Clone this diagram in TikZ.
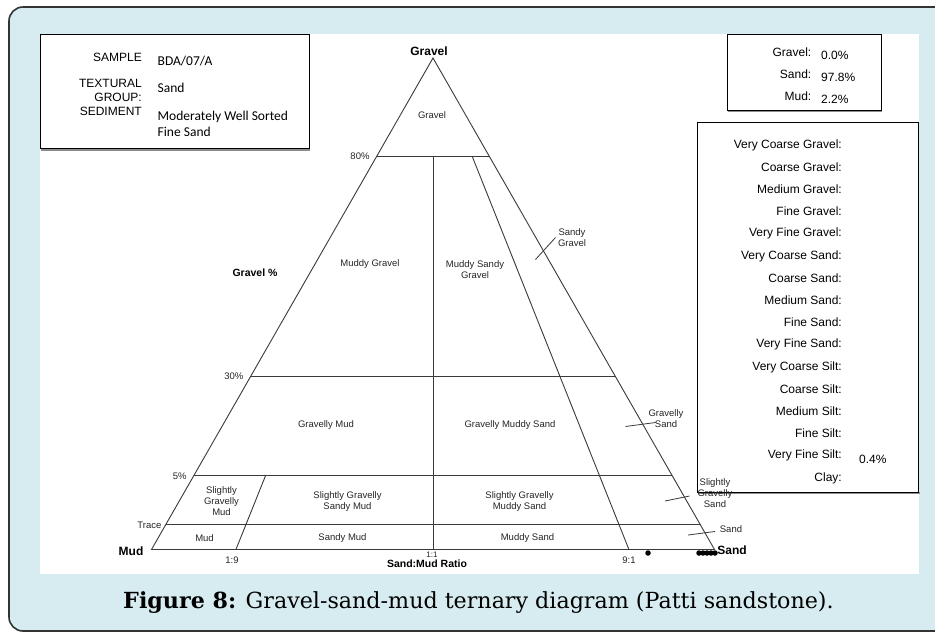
\documentclass[tikz,border=0pt]{standalone}
\usepackage{fontspec}
\setmainfont{Liberation Sans}
\newfontfamily\valuefont{Carlito}
\newfontfamily\captionfont{DejaVu Serif}
\usetikzlibrary{calc}
\definecolor{panelblue}{HTML}{D7ECF1}
\definecolor{framegray}{HTML}{333333}
\definecolor{linegray}{HTML}{3A3A3A}
\tikzset{
    region/.style = {align=center,
                    text=black!85,
                    inner sep=0pt,
                    font=\fontsize{9.5}{11}\selectfont},
    tick/.style =   {text=black!85,
                    inner sep=0pt,
                    font=\fontsize{9.5}{11}\selectfont},
    apex/.style =   {inner sep=0pt,
                    font=\bfseries\fontsize{12}{13}\selectfont},
    field/.style =  {anchor=east,
                    align=right,
                    inner sep=0pt,
                    font=\fontsize{12}{14}\selectfont},
    entry/.style =  {anchor=west,
                    align=left,
                    inner sep=0pt,
                    font=\valuefont\fontsize{13.5}{16}\selectfont},
    amount/.style = {anchor=west,
                    inner sep=0pt,
                    font=\fontsize{12}{14}\selectfont},
    infobox/.style ={draw=black,
                    line width=0.8pt},
    boxshadow/.style={draw=black!45,
                    line width=1.6pt},
    edge/.style =   {draw=linegray,
                    line width=0.9pt},
    leader/.style = {draw=linegray,
                    line width=0.8pt},
    sample/.style = {circle,
                    fill=black,
                    inner sep=0pt,
                    minimum size=5.5pt},
    -,
    line cap=round}

\begin{document}
\begin{tikzpicture}[x=1pt,y=-1pt]
            \useasboundingbox (0,0) rectangle (935,633);
            \draw[framegray, line width=1.6pt, fill=panelblue, rounded corners=14pt] (9,7) rectangle (980,631);
            \fill[white] (40,34) rectangle (919,574);
            \coordinate (G) at (433,58);
            \coordinate (M) at (151.5,549.5);
            \coordinate (S) at (714.5,549.5);
            \draw[edge] (M) -- (G) -- (S) -- cycle;
            \foreach \lvl/\t in {eighty/0.8, thirty/0.352, five/0.15, trace/0.05}{
                \coordinate (\lvl L) at ($(M)!\t!(G)$);
                \coordinate (\lvl R) at ($(S)!\t!(G)$);
                \draw[edge] (\lvl L) -- (\lvl R);
            }
            \coordinate (r19) at ($(M)!0.15!(S)$);
            \coordinate (r11) at ($(M)!0.5!(S)$);
            \coordinate (r91) at ($(M)!0.848!(S)$);
            \coordinate (r19T) at ($(r19)!0.15!(G)$);
            \coordinate (r11T) at ($(r11)!0.8!(G)$);
            \coordinate (r91T) at ($(r91)!0.8!(G)$);
            \draw[edge] (r19) -- (r19T);
            \draw[edge] (r11) -- (r11T);
            \draw[edge] (r91) -- (r91T);
            \draw[boxshadow] (698,493.2) -- (919.5,493.2);
            \draw[infobox] (697,122.5) rectangle (918.5,492);
            \node[apex]   (Gl) at (429,51.5)      {Gravel};
            \node[apex]   (Ml) at (131,551.5)     {Mud};
            \node[apex]   (Sl) at (732,550.5)     {Sand};
            \node[tick, left=7pt]  (t80) at (eightyL) {80\%};
            \node[tick, left=7pt]  (t30) at (thirtyL) {30\%};
            \node[tick, left=7pt]  (t5)  at (fiveL)   {5\%};
            \node[tick, left=4pt]  (ttr) at (traceL)  {Trace};
            \node[tick]   (n19) at (232,560)      {1:9};
            \node[tick, font=\fontsize{8}{9}\selectfont] (n11) at (432,555) {1:1};
            \node[tick]   (n91) at (629,560)      {9:1};
            \node[apex, font=\bfseries\fontsize{10.5}{12}\selectfont] (ratio) at (427,564) {Sand:Mud Ratio};
            \node[apex, font=\bfseries\fontsize{10.5}{12}\selectfont] (gpc) at (255,272.5) {Gravel \%};
            \node[region] (g)    at (432,115)     {Gravel};
            \node[region] (mG)   at (370,264.5)   {Muddy Gravel};
            \node[region] (msG)  at (475,270)     {Muddy Sandy\\Gravel};
            \node[region] (sG)   at (572,238)     {Sandy\\Gravel};
            \node[region] (gM)   at (326,425.5)   {Gravelly Mud};
            \node[region] (gmS)  at (510,425.5)   {Gravelly Muddy Sand};
            \node[region] (gS)   at (666,418.5)   {Gravelly\\Sand};
            \node[region] (sgM)  at (221.5,501)   {Slightly\\Gravelly\\Mud};
            \node[region] (sgsM) at (347.5,501.5) {Slightly Gravelly\\Sandy Mud};
            \node[region] (sgmS) at (519.5,502)   {Slightly Gravelly\\Muddy Sand};
            \node[region] (sgS)  at (715,493)     {Slightly\\Gravelly\\Sand};
            \node[region] (m)    at (204.5,538.5) {Mud};
            \node[region] (sM)   at (342.5,538.5) {Sandy Mud};
            \node[region] (mS)   at (527.5,538.5) {Muddy Sand};
            \node[region] (s)    at (731,529.5)   {Sand};
            \coordinate (sGa) at (535.5,259.5);
            \coordinate (sGb) at (555.5,237.5);
            \coordinate (gSa) at (625.5,426.5);
            \coordinate (gSb) at (655.5,422.5);
            \coordinate (sgSa) at (665,501);
            \coordinate (sgSb) at (689.5,496);
            \coordinate (sa) at (688,535);
            \coordinate (sb) at (715,531.5);
            \draw[leader] (sGa) -- (sGb);
            \draw[leader] (gSa) -- (gSb);
            \draw[leader] (sgSa) -- (sgSb);
            \draw[leader] (sa) -- (sb);
            \node[sample] (d0) at (648,553) {};
            \foreach \x [count=\i] in {699,703,707,711,715}
                \node[sample] (d\i) at (\x,553) {};
            \draw[boxshadow] (41,149.7) -- (310,149.7);
            \draw[infobox, fill=white] (40,34) rectangle (309,148.5);
            \node[field]  (sampleL) at (142,57.5)  {SAMPLE};
            \node[field]  (groupL)  at (142,90.5)  {TEXTURAL\\GROUP:};
            \node[field]  (sedL)    at (142,111.5) {SEDIMENT};
            \node[entry]  (sampleV) at (157.5,61.5) {BDA/07/A};
            \node[entry]  (groupV)  at (157.5,88)   {Sand};
            \node[entry]  (sedV)    at (157.5,124)  {Moderately Well Sorted\\Fine Sand};
            \draw[boxshadow] (728,111.2) -- (882,111.2);
            \draw[infobox, fill=white] (727,34) rectangle (881,110);
            \node[field]  (grL) at (811.5,52.5) {Gravel:};
            \node[field]  (saL) at (811.5,74.5) {Sand:};
            \node[field]  (muL) at (811.5,96.5) {Mud:};
            \node[amount] (grV) at (821,55.5)   {0.0\%};
            \node[amount] (saV) at (821,77.5)   {97.8\%};
            \node[amount] (muV) at (821,99)     {2.2\%};
            \foreach \name [count=\i] in {Very Coarse Gravel, Coarse Gravel, Medium Gravel, Fine Gravel,
                    Very Fine Gravel, Very Coarse Sand, Coarse Sand, Medium Sand, Fine Sand,
                    Very Fine Sand, Very Coarse Silt, Coarse Silt, Medium Silt, Fine Silt,
                    Very Fine Silt, Clay}
                \node[field] (f\i) at (842,{145+22.2*(\i-1)}) {\name:};
            \node[amount] (vfsV) at (859,459) {0.4\%};
            \node[font=\captionfont\fontsize{22.2}{26}\selectfont, inner sep=0pt] (caption) at (478.5,603)
                {\textbf{Figure 8:} Gravel-sand-mud ternary diagram (Patti sandstone).};
        \end{tikzpicture}
\end{document}
